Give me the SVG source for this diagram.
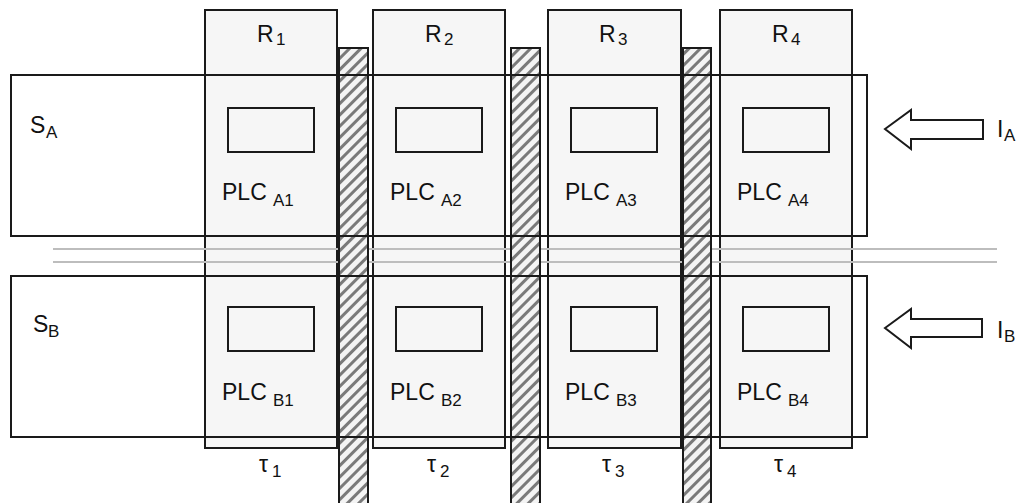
<svg xmlns="http://www.w3.org/2000/svg" width="1019" height="503" viewBox="0 0 1019 503">
  <style>
    .region { fill: #f6f6f6; stroke: #1a1a1a; stroke-width: 2; }
    .device { fill: #f6f6f6; stroke: #1a1a1a; stroke-width: 2; }
    .sector { fill: none; stroke: #1a1a1a; stroke-width: 2; }
    .guard { fill: url(#hatch); stroke: #1a1a1a; stroke-width: 2; }
    .bus { stroke: #bdbdbd; stroke-width: 2; }
    .arrow { fill: #ffffff; stroke: #1a1a1a; stroke-width: 2; stroke-linejoin: miter; }
    text { font-family: "Liberation Sans", Arial, sans-serif; fill: #111111; }
    .lbl { font-size: 23px; }
    .sub { font-size: 17px; }
  </style>
  <defs>
    <pattern id="hatch" patternUnits="userSpaceOnUse" width="8" height="8" patternTransform="rotate(45)">
      <rect width="8" height="8" fill="#f4f4f4"/>
      <rect x="0" y="0" width="3" height="8" fill="#7a7a7a"/>
    </pattern>
  </defs>

  <rect width="1019" height="503" fill="#ffffff"/>

  <!-- regions R1..R4 -->
  <g id="R1"><rect class="region" x="205" y="10" width="132" height="438"/></g>
  <g id="R2"><rect class="region" x="373" y="10" width="132" height="438"/></g>
  <g id="R3"><rect class="region" x="548" y="10" width="133" height="438"/></g>
  <g id="R4"><rect class="region" x="720" y="10" width="132" height="438"/></g>

  <!-- shared bus lines -->
  <g id="bus">
    <line class="bus" x1="53" y1="249" x2="997" y2="249"/>
    <line class="bus" x1="53" y1="262" x2="997" y2="262"/>
  </g>

  <!-- hatched separators between regions -->
  <g id="guards">
    <rect class="guard" x="339" y="48" width="29" height="460"/>
    <rect class="guard" x="511" y="48" width="29" height="460"/>
    <rect class="guard" x="683" y="48" width="28" height="460"/>
  </g>

  <!-- sectors -->
  <g id="SA"><rect class="sector" x="11" y="75" width="856" height="161"/></g>
  <g id="SB"><rect class="sector" x="11" y="276" width="856" height="161"/></g>

  <!-- PLC devices -->
  <g id="PLC_A1"><rect class="device" x="228" y="108" width="86" height="44"/>
    <text class="lbl" x="222" y="200">PLC<tspan class="sub" x="273" y="206">A1</tspan></text></g>
  <g id="PLC_A2"><rect class="device" x="396" y="108" width="86" height="44"/>
    <text class="lbl" x="390" y="200">PLC<tspan class="sub" x="441" y="206">A2</tspan></text></g>
  <g id="PLC_A3"><rect class="device" x="571" y="108" width="86" height="44"/>
    <text class="lbl" x="565" y="200">PLC<tspan class="sub" x="616" y="206">A3</tspan></text></g>
  <g id="PLC_A4"><rect class="device" x="743" y="108" width="86" height="44"/>
    <text class="lbl" x="737" y="200">PLC<tspan class="sub" x="788" y="206">A4</tspan></text></g>

  <g id="PLC_B1"><rect class="device" x="228" y="307" width="86" height="44"/>
    <text class="lbl" x="222" y="400">PLC<tspan class="sub" x="273" y="406">B1</tspan></text></g>
  <g id="PLC_B2"><rect class="device" x="396" y="307" width="86" height="44"/>
    <text class="lbl" x="390" y="400">PLC<tspan class="sub" x="441" y="406">B2</tspan></text></g>
  <g id="PLC_B3"><rect class="device" x="571" y="307" width="86" height="44"/>
    <text class="lbl" x="565" y="400">PLC<tspan class="sub" x="616" y="406">B3</tspan></text></g>
  <g id="PLC_B4"><rect class="device" x="743" y="307" width="86" height="44"/>
    <text class="lbl" x="737" y="400">PLC<tspan class="sub" x="788" y="406">B4</tspan></text></g>

  <!-- region labels -->
  <g id="labels">
    <text class="lbl" x="257" y="42">R<tspan class="sub" x="276" y="45">1</tspan></text>
    <text class="lbl" x="425" y="42">R<tspan class="sub" x="444" y="45">2</tspan></text>
    <text class="lbl" x="599" y="42">R<tspan class="sub" x="618" y="45">3</tspan></text>
    <text class="lbl" x="772" y="42">R<tspan class="sub" x="791" y="45">4</tspan></text>

    <text class="lbl" x="30" y="133">S<tspan class="sub" x="46" y="138">A</tspan></text>
    <text class="lbl" x="33" y="332">S<tspan class="sub" x="48" y="337">B</tspan></text>

    <text class="lbl" x="259" y="472">τ<tspan class="sub" x="272" y="477">1</tspan></text>
    <text class="lbl" x="427" y="472">τ<tspan class="sub" x="440" y="477">2</tspan></text>
    <text class="lbl" x="602" y="472">τ<tspan class="sub" x="615" y="477">3</tspan></text>
    <text class="lbl" x="774" y="472">τ<tspan class="sub" x="787" y="477">4</tspan></text>
  </g>

  <!-- incoming arrows -->
  <g id="IA">
    <polygon class="arrow" points="885,129 911,110 911,120 983,120 983,139 911,139 911,149"/>
    <text class="lbl" x="997" y="137">I<tspan class="sub" x="1004" y="141">A</tspan></text>
  </g>
  <g id="IB">
    <polygon class="arrow" points="885,328 911,309 911,319 982,319 982,337 911,337 911,348"/>
    <text class="lbl" x="997" y="338">I<tspan class="sub" x="1004" y="342">B</tspan></text>
  </g>
</svg>
